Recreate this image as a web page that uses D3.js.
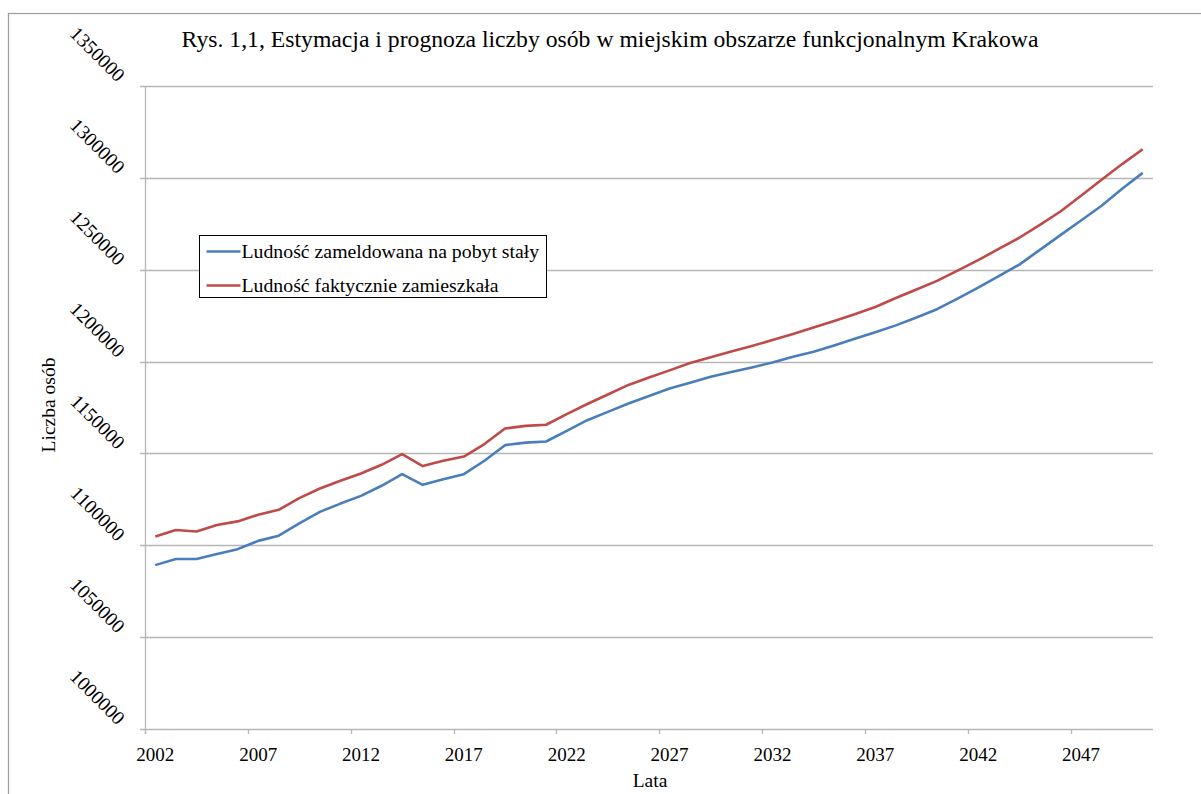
<!DOCTYPE html>
<html>
<head>
<meta charset="utf-8">
<script src="https://cdn.jsdelivr.net/npm/d3@7"></script>
<style>
  body { margin: 0; background: #fff; }
  text { font-family: "Liberation Serif", "Times New Roman", serif; fill: #000; }
</style>
</head>
<body>
<svg id="chart"></svg>
<script>
const width = 1201;
const height = 794;

// Years on the category axis
const years = d3.range(2002, 2051);

// Ludność zameldowana na pobyt stały
const registered = [
  1089200, 1092500, 1092500, 1095200, 1097900, 1102400, 1105200, 1111900, 1118200, 1122700,
  1126900, 1132400, 1138700, 1132900, 1136000, 1138700, 1146000, 1154500, 1155900, 1156500,
  1162300, 1168100, 1172600, 1177200, 1181300, 1185300, 1188500, 1191700, 1194300, 1196800,
  1199500, 1202600, 1205400, 1208800, 1212400, 1216000, 1219700, 1224000, 1228500, 1234300,
  1240200, 1246500, 1252800, 1260800, 1268800, 1276800, 1284800, 1294100, 1302700
];

// Ludność faktycznie zamieszkała
const actual = [
  1104800, 1108300, 1107500, 1111000, 1113000, 1116600, 1119300, 1125700, 1130900, 1135100,
  1139100, 1143800, 1149600, 1143100, 1146000, 1148300, 1155100, 1163600, 1165000, 1165600,
  1171400, 1176900, 1182100, 1187300, 1191300, 1195200, 1199200, 1202400, 1205500, 1208500,
  1211700, 1215000, 1218500, 1222100, 1225800, 1229700, 1234600, 1239200, 1243900, 1249500,
  1255200, 1261300, 1267400, 1274400, 1281700, 1290300, 1299000, 1307500, 1315600
];

const yTicks = [1000000, 1050000, 1100000, 1150000, 1200000, 1250000, 1300000, 1350000];
const xLabelYears = years.filter(y => (y - 2002) % 5 === 0);

const seriesNames = ['Ludność zameldowana na pobyt stały', 'Ludność faktycznie zamieszkała'];
const seriesColors = ['#4a7ebb', '#be4b48'];

const plot = { left: 145, right: 1153, top: 86, bottom: 729 };

const svg = d3.select('#chart')
  .attr('width', width)
  .attr('height', height);

svg.append('rect')
  .attr('width', width)
  .attr('height', height)
  .attr('fill', '#fff');

// Outer chart border (runs off the right and bottom edge)
svg.append('rect')
  .attr('x', 8.5)
  .attr('y', 13.5)
  .attr('width', 1220)
  .attr('height', 820)
  .attr('fill', 'none')
  .attr('stroke', '#a0a0a0')
  .attr('stroke-width', 1.3);

const x = d3.scaleBand()
  .domain(years)
  .range([plot.left, plot.right])
  .padding(0);

const y = d3.scaleLinear()
  .domain([1000000, 1350000])
  .range([plot.bottom, plot.top]);

// Horizontal gridlines + y tick marks
svg.append('g')
  .selectAll('line')
  .data(yTicks)
  .join('line')
  .attr('x1', plot.left - 5)
  .attr('x2', plot.right)
  .attr('y1', d => Math.round(y(d)) + 0.5)
  .attr('y2', d => Math.round(y(d)) + 0.5)
  .attr('stroke', '#b6b6b6')
  .attr('stroke-width', 1.3);

// Y axis line
svg.append('line')
  .attr('x1', plot.left + 0.5)
  .attr('x2', plot.left + 0.5)
  .attr('y1', plot.top)
  .attr('y2', plot.bottom + 5)
  .attr('stroke', '#b6b6b6')
  .attr('stroke-width', 1.3);

// X tick marks at category boundaries, every 5 years
svg.append('g')
  .selectAll('line')
  .data(xLabelYears)
  .join('line')
  .attr('x1', d => Math.round(x(d)) + 0.5)
  .attr('x2', d => Math.round(x(d)) + 0.5)
  .attr('y1', plot.bottom)
  .attr('y2', plot.bottom + 5)
  .attr('stroke', '#b6b6b6')
  .attr('stroke-width', 1.3);

// Y tick labels, rotated 45 degrees
svg.append('g')
  .selectAll('text')
  .data(yTicks)
  .join('text')
  .attr('transform', d => `translate(117,${y(d) - 3}) rotate(45)`)
  .attr('text-anchor', 'end')
  .style('font-size', '19.5px')
  .text(d => d);

// X tick labels centred in their category
svg.append('g')
  .selectAll('text')
  .data(xLabelYears)
  .join('text')
  .attr('x', d => x(d) + x.bandwidth() / 2)
  .attr('y', 761)
  .attr('text-anchor', 'middle')
  .style('font-size', '19px')
  .text(d => d);

// Lines
const line = d3.line()
  .x((d, i) => x(years[i]) + x.bandwidth() / 2)
  .y(d => y(d));

[registered, actual].forEach((values, k) => {
  svg.append('path')
    .datum(values)
    .attr('d', line)
    .attr('fill', 'none')
    .attr('stroke', seriesColors[k])
    .attr('stroke-width', 2.6)
    .attr('stroke-linejoin', 'round');
});

// Title and axis titles
svg.append('text')
  .attr('x', 610)
  .attr('y', 47)
  .attr('text-anchor', 'middle')
  .style('font-size', '23.7px')
  .text('Rys. 1,1, Estymacja i prognoza liczby osób w miejskim obszarze funkcjonalnym Krakowa');

svg.append('text')
  .attr('transform', 'translate(55,405) rotate(-90)')
  .attr('text-anchor', 'middle')
  .style('font-size', '19.5px')
  .text('Liczba osób');

svg.append('text')
  .attr('x', 650)
  .attr('y', 787)
  .attr('text-anchor', 'middle')
  .style('font-size', '19.5px')
  .text('Lata');

// Legend
const legend = svg.append('g').attr('transform', 'translate(199.5,235.5)');
legend.append('rect')
  .attr('width', 347)
  .attr('height', 62)
  .attr('fill', '#fff')
  .attr('stroke', '#000')
  .attr('stroke-width', 1);

seriesNames.forEach((name, k) => {
  const ly = 16 + k * 34;
  legend.append('line')
    .attr('x1', 7)
    .attr('x2', 41)
    .attr('y1', ly)
    .attr('y2', ly)
    .attr('stroke', seriesColors[k])
    .attr('stroke-width', 2.6);
  legend.append('text')
    .attr('x', 42)
    .attr('y', ly + 6)
    .style('font-size', '19.8px')
    .text(name);
});
</script>
</body>
</html>
